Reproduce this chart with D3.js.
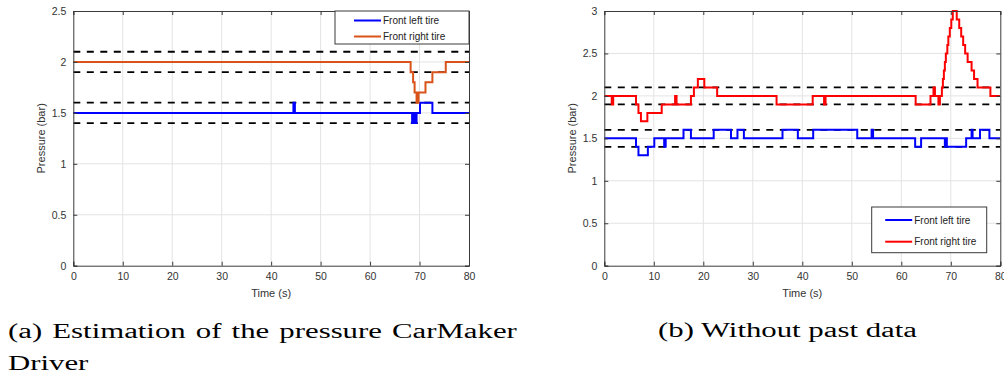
<!DOCTYPE html>
<html><head><meta charset="utf-8">
<script src="https://cdn.jsdelivr.net/npm/d3@7"></script>
<style>body{margin:0;background:#fff}svg{display:block}</style>
</head><body>
<svg id="c" width="1004" height="376"></svg>
<script>
// ---------- data ----------
const xTicks = [0,10,20,30,40,50,60,70,80];
const yTicksA = [0,0.5,1,1.5,2,2.5];
const yTicksB = [0,0.5,1,1.5,2,2.5,3];
const thresholds = [2.1,1.9,1.6,1.4];
const legendLabels = ["Front left tire","Front right tire"];

// (a) CarMaker driver
const aLeftT  = [0,44.5,44.8,68.5,68.9,69.0,69.4,70.1,72.6,80];
const aLeftV  = [1.5,1.6,1.5,1.4,1.5,1.4,1.5,1.6,1.5,1.5];
const aRightT = [0,68.2,68.7,69.0,69.4,69.8,71.2,72.6,75.3,80];
const aRightV = [2.0,1.9,1.8,1.7,1.6,1.7,1.8,1.9,2.0,2.0];

// (b) without past data
const bLeftT  = [0,6.4,6.9,8.8,10.1,12.1,12.4,16.0,17.5,22.1,25.6,26.9,28.2,36.0,39.1,42.2,51.1,54.0,54.3,62.8,64.0,68.8,69.0,69.2,73.1,74.2,74.4,75.9,77.8,80];
const bLeftV  = [1.5,1.4,1.3,1.4,1.5,1.4,1.5,1.6,1.5,1.6,1.5,1.6,1.5,1.6,1.5,1.6,1.5,1.6,1.5,1.4,1.5,1.4,1.5,1.4,1.5,1.6,1.5,1.6,1.5,1.5];
const bRightT = [0,1.5,1.8,6.4,6.9,7.4,8.7,11.6,14.3,14.6,17.5,18.1,18.9,20.2,22.8,34.8,42.1,44.4,44.7,62.9,65.9,66.5,66.8,67.5,67.8,68.2,68.4,68.6,68.8,69.0,69.3,69.5,69.8,70.1,70.4,71.2,71.7,72.1,72.5,72.9,73.4,74.2,74.7,75.4,78.0,80];
const bRightV = [2.0,1.9,2.0,1.9,1.8,1.7,1.8,1.9,2.0,1.9,2.0,2.1,2.2,2.1,2.0,1.9,2.0,1.9,2.0,1.9,2.0,2.1,2.0,1.9,2.0,2.1,2.2,2.3,2.4,2.5,2.6,2.7,2.8,2.9,3.0,2.9,2.8,2.7,2.6,2.5,2.4,2.3,2.2,2.1,2.0,2.0];

const captionA1 = "(a) Estimation of the pressure CarMaker";
const captionA2 = "Driver";
const captionB  = "(b) Without past data";

// ---------- drawing ----------
const svg = d3.select("#c");
const AX = "#3a3a3a", TXT = "#333", GRID = "#e3e3e3";
const SANS = "'Liberation Sans', Arial, Helvetica, sans-serif";

function panel(id, box, yMax, yTicks, series, leg) {
  const g = svg.append("g");
  const x = d3.scaleLinear().domain([0,80]).range([box.x0, box.x1]);
  const y = d3.scaleLinear().domain([0,yMax]).range([box.y1, box.y0]);
  g.append("clipPath").attr("id","clip"+id).append("rect")
    .attr("x",box.x0).attr("y",box.y0-1).attr("width",box.x1-box.x0).attr("height",box.y1-box.y0+2);
  g.selectAll(".gx").data(xTicks.slice(1,-1)).join("line")
    .attr("x1",d=>x(d)).attr("x2",d=>x(d)).attr("y1",box.y0).attr("y2",box.y1)
    .attr("stroke",GRID).attr("stroke-width",1);
  g.selectAll(".gy").data(yTicks.slice(1,-1)).join("line")
    .attr("y1",d=>y(d)).attr("y2",d=>y(d)).attr("x1",box.x0).attr("x2",box.x1)
    .attr("stroke",GRID).attr("stroke-width",1);
  const plot = g.append("g").attr("clip-path","url(#clip"+id+")");
  plot.selectAll(".th").data(thresholds).join("line")
    .attr("x1",box.x0).attr("x2",box.x1).attr("y1",d=>y(d)).attr("y2",d=>y(d))
    .attr("stroke","#000").attr("stroke-width",1.8).attr("stroke-dasharray","7,6.5");
  const line = d3.line().x(d=>x(d[0])).y(d=>y(d[1])).curve(d3.curveStepAfter);
  series.forEach(s=>{
    plot.append("path").datum(d3.zip(s.t,s.v)).attr("d",line)
      .attr("fill","none").attr("stroke",s.color).attr("stroke-width",2);
  });
  const bottom = d3.axisBottom(x).tickValues(xTicks).tickSize(-4).tickPadding(7);
  const left = d3.axisLeft(y).tickValues(yTicks).tickSize(-4).tickPadding(7).tickFormat(d3.format("~g"));
  const top = d3.axisTop(x).tickValues(xTicks).tickSize(-4).tickFormat("");
  const right = d3.axisRight(y).tickValues(yTicks).tickSize(-4).tickFormat("");
  const ax = [
    g.append("g").attr("transform",`translate(0,${box.y1})`).call(bottom),
    g.append("g").attr("transform",`translate(${box.x0},0)`).call(left),
    g.append("g").attr("transform",`translate(0,${box.y0})`).call(top),
    g.append("g").attr("transform",`translate(${box.x1},0)`).call(right)
  ];
  ax.forEach(a=>{
    a.select(".domain").attr("stroke",AX).attr("stroke-width",1);
    a.selectAll(".tick line").attr("stroke",AX);
    a.selectAll("text").attr("fill",TXT).style("font-family",SANS).style("font-size","10.5px");
  });
  g.append("text").attr("x",(box.x0+box.x1)/2).attr("y",box.y1+31)
    .attr("text-anchor","middle").attr("fill",TXT).style("font-family",SANS).style("font-size","11px")
    .text("Time (s)");
  g.append("text").attr("transform",`translate(${box.x0-28},${(box.y0+box.y1)/2}) rotate(-90)`)
    .attr("text-anchor","middle").attr("fill",TXT).style("font-family",SANS).style("font-size","11px")
    .text("Pressure (bar)");
  const lg = g.append("g");
  lg.append("rect").attr("x",leg.x).attr("y",leg.y).attr("width",leg.w).attr("height",leg.h)
    .attr("fill","#fff").attr("stroke",AX).attr("stroke-width",1);
  series.forEach((s,i)=>{
    const yy = leg.y + leg.first + i*leg.step;
    lg.append("line").attr("x1",leg.x+leg.lx).attr("x2",leg.x+leg.lx+27).attr("y1",yy).attr("y2",yy)
      .attr("stroke",s.color).attr("stroke-width",2);
    lg.append("text").attr("x",leg.x+leg.lx+29).attr("y",yy).attr("dy","0.35em")
      .attr("fill","#222").style("font-family",SANS).style("font-size","10px").text(legendLabels[i]);
  });
}

panel("a", {x0:73.3,x1:469,y0:11,y1:265.7}, 2.5, yTicksA,
  [{t:aLeftT,v:aLeftV,color:"#0000ff"},{t:aRightT,v:aRightV,color:"#d95319"}],
  {x:335,y:11,w:134,h:33,lx:19,first:9.5,step:16});
panel("b", {x0:604.3,x1:1000.3,y0:11,y1:265.7}, 3, yTicksB,
  [{t:bLeftT,v:bLeftV,color:"#0000ff"},{t:bRightT,v:bRightV,color:"#ff0000"}],
  {x:871.7,y:207,w:115,h:45.7,lx:13.5,first:13,step:21.7});

// captions: serif text, stretched horizontally like the reference rendering
const SERIF = "'Liberation Serif','DejaVu Serif',serif";
function mk(txt,x,y){
  const g = svg.append("g").attr("transform",`translate(${x},${y})`);
  const t = g.append("text").attr("x",0).attr("y",0).attr("fill","#000")
    .style("font-family",SERIF).style("font-size","20px").text(txt);
  return {g,t,w:t.node().getComputedTextLength()};
}
const cb = mk(captionB,658,337);
const sx = 259/cb.w;
cb.g.attr("transform",`translate(658,337) scale(${sx},1)`);
const ca1 = mk(captionA1,8,338);
const gaps = captionA1.split(" ").length-1;
ca1.t.attr("word-spacing",(509/sx - ca1.w)/gaps);
ca1.g.attr("transform",`translate(8,338) scale(${sx},1)`);
const ca2 = mk(captionA2,8,370);
ca2.g.attr("transform",`translate(8,370) scale(${sx},1)`);
</script>
</body></html>
